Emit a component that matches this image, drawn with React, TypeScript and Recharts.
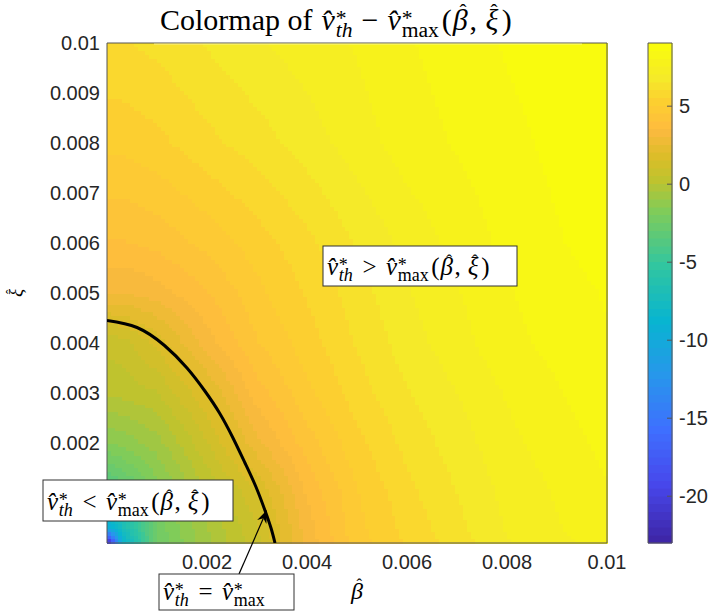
import React from "react";
import {
  ComposedChart,
  XAxis,
  YAxis,
  Line,
  ReferenceArea,
  ReferenceLine,
  ReferenceDot,
} from "recharts";

// nodes of the colour field (beta across, xi up)
const betaNodes = [0, 0.0003, 0.001, 0.002, 0.003, 0.004, 0.005, 0.006, 0.008, 0.01];
const xiNodes = [0, 0.0003, 0.001, 0.002, 0.003, 0.004, 0.005, 0.006, 0.008, 0.01];

// v_th - v_max, one row per xi node (bottom row first)
const gapXi0000 = [-23, -9.0, -2.4, -0.6, 0.9, 3.2, 4.8, 5.6, 7.0, 7.8];
const gapXi0003 = [-10, -7.4, -2.3, -0.5, 1.0, 3.3, 4.9, 5.7, 7.1, 7.9];
const gapXi0010 = [-4.0, -3.5, -1.8, 0.0, 1.5, 3.6, 5.0, 5.9, 7.2, 8.0];
const gapXi0020 = [-1.5, -1.3, -0.7, 1.0, 2.9, 4.3, 5.4, 6.2, 7.4, 8.2];
const gapXi0030 = [0.1, 0.2, 0.5, 2.0, 3.8, 4.9, 5.8, 6.5, 7.6, 8.4];
const gapXi0040 = [0.7, 0.8, 1.7, 3.3, 4.5, 5.3, 6.1, 6.8, 7.9, 8.5];
const gapXi0050 = [3.0, 3.0, 3.3, 4.0, 4.9, 5.6, 6.3, 7.0, 8.0, 8.6];
const gapXi0060 = [4.0, 4.0, 4.2, 4.7, 5.3, 5.9, 6.6, 7.2, 8.2, 8.8];
const gapXi0080 = [5.2, 5.2, 5.4, 5.9, 6.3, 6.8, 7.3, 7.8, 8.4, 8.95];
const gapXi0100 = [6.0, 6.0, 6.2, 6.6, 7.0, 7.3, 7.6, 8.0, 8.6, 9.05];
const gapRows = [
  gapXi0000, gapXi0003, gapXi0010, gapXi0020, gapXi0030,
  gapXi0040, gapXi0050, gapXi0060, gapXi0080, gapXi0100,
];

// the v_th = v_max curve
const curveBeta = [0, 0.0006, 0.00115, 0.0016, 0.00195, 0.00225, 0.00252, 0.00276, 0.00298, 0.00316, 0.00328, 0.00336];
const curveXi = [0.00445, 0.00431, 0.00395, 0.0035, 0.00305, 0.0026, 0.0021, 0.0016, 0.00112, 0.00065, 0.0003, 0];

const betaTicks = [0.002, 0.004, 0.006, 0.008, 0.01];
const xiTicks = [0.002, 0.003, 0.004, 0.005, 0.006, 0.007, 0.008, 0.009, 0.01];
const barTicks = [-20, -15, -10, -5, 0, 5];
const barMin = -23;
const barMax = 9.05;

const AXIS_FONT = "'Liberation Sans', Arial, Helvetica, sans-serif";
const TEX_FONT = "'Liberation Serif', 'Times New Roman', serif";
const INK = "#262626";
const FRAME = "#555555";

// parula
const PARULA = [
  [0.0, 0.2422, 0.1504, 0.6603],
  [0.111, 0.2803, 0.2782, 0.9221],
  [0.222, 0.244, 0.4358, 0.9988],
  [0.333, 0.154, 0.5902, 0.9218],
  [0.444, 0.0297, 0.7082, 0.8163],
  [0.556, 0.1938, 0.7758, 0.6251],
  [0.667, 0.5044, 0.7993, 0.348],
  [0.73, 0.75, 0.765, 0.18],
  [0.778, 0.8634, 0.7406, 0.1596],
  [0.825, 0.9728, 0.7298, 0.2394],
  [0.841, 0.9956, 0.7434, 0.2371],
  [0.889, 0.9892, 0.8136, 0.1885],
  [0.937, 0.9589, 0.9179, 0.1601],
  [1.0, 0.9763, 0.9831, 0.0538],
];

function parula(t: number) {
  let k = 0;
  while (k < PARULA.length - 2 && t > PARULA[k + 1][0]) k++;
  const a = PARULA[k];
  const b = PARULA[k + 1];
  const f = Math.min(1, Math.max(0, (t - a[0]) / (b[0] - a[0])));
  const c = [1, 2, 3].map((i) => Math.round(255 * (a[i] + (b[i] - a[i]) * f)));
  return `rgb(${c[0]},${c[1]},${c[2]})`;
}

const LEVELS = 64;
const palette = Array.from({ length: LEVELS }, (_, k) => parula(k / (LEVELS - 1)));

function colourOf(v: number) {
  const k = Math.floor(((v - barMin) / (barMax - barMin)) * LEVELS);
  return palette[Math.min(LEVELS - 1, Math.max(0, k))];
}

const curve = curveBeta.map((beta, i) => ({ beta, xi: curveXi[i] }));

const cells: { i: number; j: number }[] = [];
for (let j = 0; j < xiNodes.length - 1; j++) {
  for (let i = 0; i < betaNodes.length - 1; i++) cells.push({ i, j });
}

const barStrips = palette.map((fill, k) => ({
  lo: barMin + ((barMax - barMin) * k) / LEVELS,
  hi: barMin + ((barMax - barMin) * (k + 1)) / LEVELS,
  fill,
}));
const barFrame = [{ u: 0 }, { u: 1 }];

// bilinear shading inside one cell, like shading interp
function shadeCell(i: number, j: number) {
  const v00 = gapRows[j][i];
  const v10 = gapRows[j][i + 1];
  const v01 = gapRows[j + 1][i];
  const v11 = gapRows[j + 1][i + 1];
  return (p: any) => {
    const { x, y, width, height } = p;
    const nx = Math.max(1, Math.round(width / 4));
    const ny = Math.max(1, Math.round(height / 4));
    const dw = width / nx;
    const dh = height / ny;
    const out = [];
    for (let a = 0; a < nx; a++) {
      for (let b = 0; b < ny; b++) {
        const u = (a + 0.5) / nx;
        const w = 1 - (b + 0.5) / ny;
        const v =
          v00 * (1 - u) * (1 - w) + v10 * u * (1 - w) + v01 * (1 - u) * w + v11 * u * w;
        out.push(
          <rect
            key={a * 1000 + b}
            x={x + a * dw}
            y={y + b * dh}
            width={dw + 0.7}
            height={dh + 0.7}
            fill={colourOf(v)}
          />
        );
      }
    }
    return <g shapeRendering="crispEdges">{out}</g>;
  };
}

// [text, kind, gap in em]; kinds: i, r, sup, subi, subr, hat
type Part = [string, string, number?];

function Formula({
  x,
  y,
  size,
  parts,
  anchor = "start",
}: {
  x: number;
  y: number;
  size: number;
  parts: Part[];
  anchor?: string;
}) {
  let shift = 0;
  const spans = parts.map(([txt, kind, gap], n) => {
    const isSub = kind === "subi" || kind === "subr";
    const script = isSub || kind === "sup";
    let target = 0;
    if (kind === "sup") target = -0.16 * size;
    if (isSub) target = 0.24 * size;
    if (kind === "hat") target = -0.37 * size;
    let dx = (gap ?? 0) * size;
    if (isSub) dx -= 0.36 * size;
    const dy = target - shift;
    shift = target;
    const fs = script ? 0.72 * size : kind === "hat" ? 0.7 * size : size;
    return (
      <tspan
        key={n}
        dx={dx}
        dy={dy}
        fontSize={fs}
        fontStyle={kind === "i" || kind === "subi" ? "italic" : "normal"}
      >
        {txt}
      </tspan>
    );
  });
  return (
    <text x={x} y={y} textAnchor={anchor as any} fontFamily={TEX_FONT} fill="#000">
      {spans}
    </text>
  );
}

const HAT = "\u02c6";
const vth: Part[] = [["v\u0302", "i"], ["*", "sup", 0.03], ["th", "subi"]];
const vmax = (gap: number): Part[] => [["v\u0302", "i", gap], ["*", "sup", 0.03], ["max", "subr"]];
const args: Part[] = [
  ["(", "r", 0.1],
  ["\u03b2", "i", 0.03],
  [HAT, "hat", -0.27],
  [",", "r", 0.1],
  ["\u03be", "i", 0.28],
  [HAT, "hat", -0.26],
  [")", "r", 0.14],
];

const titleParts: Part[] = [
  ["Colormap of", "r"],
  ["v\u0302", "i", 0.3],
  ["*", "sup", 0.03],
  ["th", "subi"],
  ["\u2212", "r", 0.3],
  ...vmax(0.3),
  ...args,
];
const aboveParts: Part[] = [...vth, [">", "r", 0.38], ...vmax(0.38), ...args];
const belowParts: Part[] = [...vth, ["<", "r", 0.38], ...vmax(0.38), ...args];
const onParts: Part[] = [...vth, ["=", "r", 0.38], ...vmax(0.38)];
const betaLabelParts: Part[] = [["\u03b2", "i"], [HAT, "hat", -0.27]];
const xiLabelParts: Part[] = [["\u03be", "i"], [HAT, "hat", -0.26]];

function noteBox(w: number, h: number, parts: Part[], base: number) {
  return (p: any) => (
    <g>
      <rect x={p.cx} y={p.cy} width={w} height={h} fill="#fff" stroke="#333" strokeWidth={1} />
      <Formula x={p.cx + 4} y={p.cy + base} size={25} parts={parts} />
    </g>
  );
}

const arrowShape = (p: any) => {
  const { x1, y1, x2, y2 } = p;
  const ang = Math.atan2(y2 - y1, x2 - x1);
  const c = Math.cos(ang);
  const s = Math.sin(ang);
  const len = 13;
  const half = 5;
  const bx = x2 - len * c;
  const by = y2 - len * s;
  const nx = x2 - 0.7 * len * c;
  const ny = y2 - 0.7 * len * s;
  return (
    <g>
      <line x1={x1} y1={y1} x2={nx} y2={ny} stroke="#000" strokeWidth={1.2} />
      <polygon
        points={`${x2},${y2} ${bx - half * s},${by + half * c} ${nx},${ny} ${bx + half * s},${by - half * c}`}
        fill="#000"
      />
    </g>
  );
};

const fmtTick = (v: number) => String(+v.toFixed(4));

const BarTick = (p: any) => {
  const { x, y, payload } = p;
  return (
    <g>
      <line x1={x - 12} x2={x - 7} y1={y} y2={y} stroke={FRAME} />
      <text x={x} y={y} dy="0.355em" fontFamily={AXIS_FONT} fontSize={20} fill={INK}>
        {payload.value}
      </text>
    </g>
  );
};

export default function App() {
  return (
    <div
      style={{
        position: "absolute",
        left: 0,
        top: 0,
        width: 711,
        height: 614,
        background: "#fff",
        overflow: "hidden",
      }}
    >
      <div style={{ position: "absolute", left: 0, top: 0 }}>
        <ComposedChart width={711} height={614} margin={{ top: 43, right: 104, bottom: 0, left: 7 }}>
          <XAxis
            type="number"
            dataKey="beta"
            domain={[0, 0.01]}
            allowDataOverflow
            ticks={betaTicks}
            tickFormatter={fmtTick}
            height={71}
            tickSize={0}
            tickMargin={12}
            axisLine={false}
            tickLine={false}
            tick={{ fill: INK, fontSize: 20, fontFamily: AXIS_FONT }}
            label={{
              content: (p: any) => (
                <Formula
                  x={p.viewBox.x + p.viewBox.width / 2}
                  y={p.viewBox.y + 56}
                  size={24}
                  anchor="middle"
                  parts={betaLabelParts}
                />
              ),
            }}
          />
          <YAxis
            type="number"
            dataKey="xi"
            domain={[0, 0.01]}
            allowDataOverflow
            ticks={xiTicks}
            tickFormatter={fmtTick}
            width={100}
            tickSize={0}
            tickMargin={7}
            axisLine={false}
            tickLine={false}
            tick={{ fill: INK, fontSize: 20, fontFamily: AXIS_FONT }}
            label={{
              content: (p: any) => {
                const lx = p.viewBox.x + 15;
                const ly = p.viewBox.y + p.viewBox.height / 2;
                return (
                  <g transform={`rotate(-90 ${lx} ${ly})`}>
                    <Formula x={lx} y={ly} size={19} anchor="middle" parts={xiLabelParts} />
                  </g>
                );
              },
            }}
          />
          {cells.map(({ i, j }) => (
            <ReferenceArea
              key={`c${i}-${j}`}
              x1={betaNodes[i]}
              x2={betaNodes[i + 1]}
              y1={xiNodes[j]}
              y2={xiNodes[j + 1]}
              ifOverflow="visible"
              shape={shadeCell(i, j)}
            />
          ))}
          <ReferenceLine
            segment={[
              { x: 0.00094, y: 0.00998 },
              { x: 0.0095, y: 0.00998 },
            ]}
            stroke="#fffbd2"
            strokeWidth={1}
            strokeOpacity={0.6}
            ifOverflow="visible"
          />
          <ReferenceArea
            x1={0}
            x2={0.01}
            y1={0}
            y2={0.01}
            ifOverflow="visible"
            fill="none"
            stroke={FRAME}
            strokeWidth={1}
          />
          <Line
            data={curve}
            dataKey="xi"
            type="natural"
            stroke="#000"
            strokeWidth={3}
            dot={false}
            activeDot={false}
            isAnimationActive={false}
          />
          <ReferenceLine
            segment={[
              { x: 0.00264, y: -0.00062 },
              { x: 0.0032, y: 0.00066 },
            ]}
            ifOverflow="visible"
            shape={arrowShape}
          />
          <ReferenceDot
            x={0.00432}
            y={0.00594}
            ifOverflow="visible"
            shape={noteBox(194, 40, aboveParts, 29)}
          />
          <ReferenceDot
            x={-0.00128}
            y={0.00126}
            ifOverflow="visible"
            shape={noteBox(190, 41, belowParts, 30)}
          />
          <ReferenceDot
            x={0.00104}
            y={-0.00062}
            ifOverflow="visible"
            shape={noteBox(135, 36, onParts, 26)}
          />
        </ComposedChart>
      </div>
      <div style={{ position: "absolute", left: 0, top: 0 }}>
        <ComposedChart
          width={711}
          height={614}
          data={barFrame}
          margin={{ top: 43, right: 0, bottom: 71, left: 648 }}
        >
          <XAxis type="number" dataKey="u" domain={[0, 1]} hide />
          <YAxis
            type="number"
            orientation="right"
            domain={[barMin, barMax]}
            allowDataOverflow
            ticks={barTicks}
            width={39}
            tickSize={0}
            tickMargin={7}
            axisLine={false}
            tickLine={false}
            tick={<BarTick />}
          />
          {barStrips.map((s, k) => (
            <ReferenceArea
              key={`b${k}`}
              y1={s.lo}
              y2={s.hi}
              ifOverflow="visible"
              fill={s.fill}
              fillOpacity={1}
              stroke={s.fill}
              strokeWidth={0.5}
              shapeRendering="crispEdges"
            />
          ))}
          <ReferenceArea
            y1={barMin}
            y2={barMax}
            ifOverflow="visible"
            fill="none"
            stroke={FRAME}
            strokeWidth={1}
          />
        </ComposedChart>
      </div>
      <svg style={{ position: "absolute", left: 0, top: 0 }} width={711} height={42}>
        <Formula x={160} y={30} size={30} parts={titleParts} />
      </svg>
    </div>
  );
}
